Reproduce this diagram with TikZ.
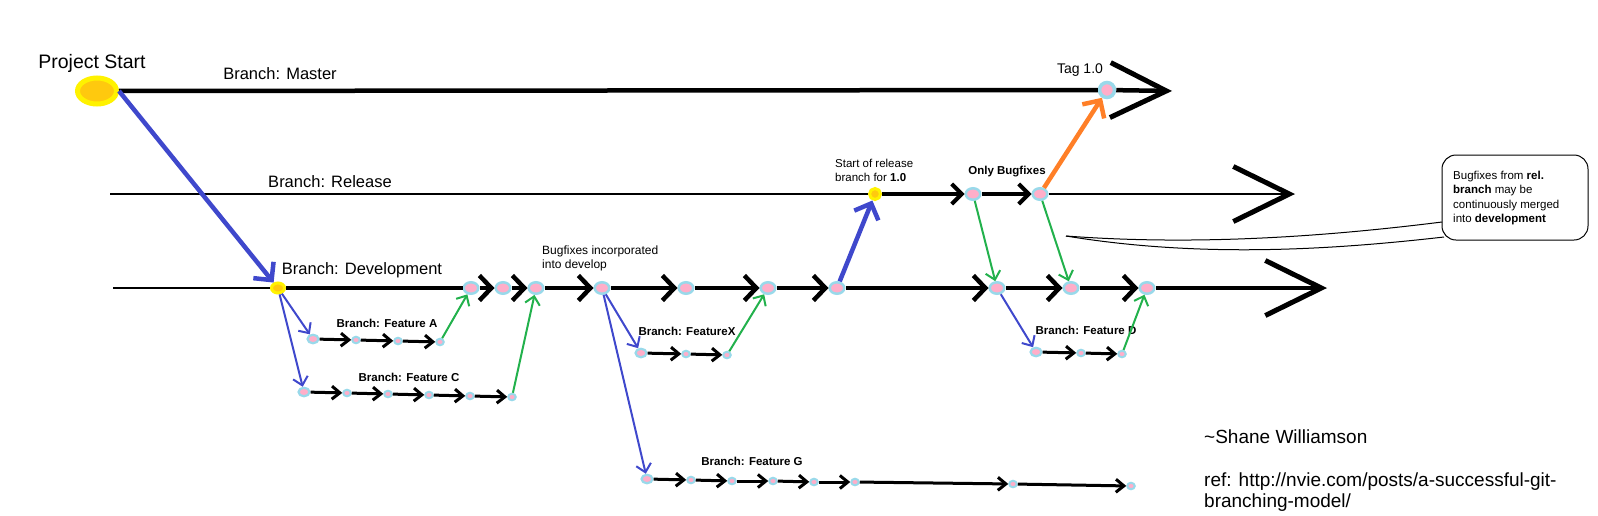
\documentclass[tikz,border=0pt]{standalone}
\usepackage{fontspec}
\setmainfont{Liberation Sans}
\usetikzlibrary{arrows.meta,shapes.geometric}

\definecolor{ringblue}{HTML}{99D9EA}
\definecolor{dotpink}{HTML}{FFAEC9}
\definecolor{startyellow}{HTML}{FFF200}
\definecolor{startorange}{HTML}{FFC90E}
\definecolor{forkblue}{HTML}{3F48CC}
\definecolor{mergegreen}{HTML}{22B14C}
\definecolor{tagorange}{HTML}{FF7F27}

\tikzset{
	commit/.style={ellipse, draw=ringblue, fill=dotpink, line width=2.5pt, minimum width=14.5pt, minimum height=11.5pt, inner sep=0pt},
	firstcommit/.style={commit, line width=2.2pt, minimum width=11pt, minimum height=8.5pt},
	smallcommit/.style={commit, line width=2pt, minimum width=7.5pt, minimum height=6.5pt},
	tagcommit/.style={commit, line width=3.5pt, minimum width=15pt, minimum height=15pt},
	startdot/.style={ellipse, draw=startyellow, fill=startorange, inner sep=0pt},
	label/.style={inner sep=0pt},
	branchname/.style={label, font=\fontsize{16.5}{19}\selectfont},
	featurename/.style={label, font=\fontsize{11.5}{14}\selectfont\bfseries},
	note/.style={label, align=left, font=\fontsize{11.5}{14}\selectfont},
	trunkstep/.style={line width=4.5pt, -{Straight Barb[length=12pt,width=25pt]}},
	relstep/.style={line width=4pt, -{Straight Barb[length=10pt,width=20pt]}},
	featstep/.style={line width=3pt, -{Straight Barb[length=8pt,width=13pt]}},
	bigtip/.style={-{Straight Barb[length=56pt,width=55pt,line width'=5pt]}},
	forkarrow/.style={draw=forkblue, line width=2pt, -{Straight Barb[length=8pt,width=15pt]}},
	bigforkarrow/.style={draw=forkblue, line width=4.5pt, -{Straight Barb[length=13pt,width=26pt]}},
	mergearrow/.style={draw=mergegreen, line width=2pt, -{Straight Barb[length=8pt,width=15pt]}},
	tagarrow/.style={draw=tagorange, line width=4.5pt, -{Straight Barb[length=13pt,width=26pt]}}
}

\begin{document}
\begin{tikzpicture}[x=1pt,y=-1pt]
		\useasboundingbox (0,0) rectangle (1598,515);

		%master
		\node[startdot, line width=5pt, minimum width=39pt, minimum height=26pt] (S) at (97,91) {};
		\node[tagcommit] (T) at (1107,90) {};
		\coordinate (mtip) at (1172,91);
		\node[label, font=\fontsize{19.5}{22}\selectfont] (pstart) at (92,63) {Project Start};
		\node[branchname] (lmaster) at (280,74) {Branch: Master};
		\node[label, font=\fontsize{14}{16}\selectfont] (ltag) at (1080,70) {Tag 1.0};

		%release
		\coordinate (rstart) at (110,194);
		\node[startdot, line width=3pt, minimum width=11pt, minimum height=11pt] (R0) at (875,194) {};
		\node[commit] (R1) at (973,194) {};
		\node[commit] (R2) at (1040,194) {};
		\coordinate (rtip) at (1295,194);
		\node[branchname] (lrelease) at (330,182) {Branch: Release};
		\node[note, anchor=west] (lrstart) at (835,170) {Start of release\\branch for \textbf{1.0}};
		\node[note, anchor=center, font=\fontsize{11.5}{14}\selectfont\bfseries] (lonly) at (1007,172) {Only Bugfixes};

		%development
		\coordinate (dstart) at (113,288);
		\node[startdot, line width=3pt, minimum width=13pt, minimum height=10pt] (D0) at (278,288) {};
		\node[commit] (D1) at (471,288) {};
		\node[commit] (D2) at (503,288) {};
		\node[commit] (D3) at (536,288) {};
		\node[commit] (D4) at (602,288) {};
		\node[commit] (D5) at (686,288) {};
		\node[commit] (D6) at (768,288) {};
		\node[commit] (D7) at (837,288) {};
		\node[commit] (D8) at (997,288) {};
		\node[commit] (D9) at (1071,288) {};
		\node[commit] (D10) at (1147,288) {};
		\coordinate (dtip) at (1327,288);
		\node[branchname] (ldev) at (362,270) {Branch: Development};
		\node[note, anchor=west, font=\fontsize{12}{14}\selectfont] (lbugfix) at (542,258) {Bugfixes incorporated\\into develop};

		%feature A
		\node[firstcommit] (A1) at (313,339) {};
		\node[smallcommit] (A2) at (356,340) {};
		\node[smallcommit] (A3) at (398,341) {};
		\node[smallcommit] (A4) at (440,342) {};
		\node[featurename] (lA) at (387,323) {Branch: Feature A};

		%feature C
		\node[firstcommit] (C1) at (304,392) {};
		\node[smallcommit] (C2) at (347,393) {};
		\node[smallcommit] (C3) at (388,394) {};
		\node[smallcommit] (C4) at (429,395) {};
		\node[smallcommit] (C5) at (470,396) {};
		\node[smallcommit] (C6) at (512,397) {};
		\node[featurename] (lC) at (409,377) {Branch: Feature C};

		%feature X
		\node[firstcommit] (X1) at (641,353) {};
		\node[smallcommit] (X2) at (686,354) {};
		\node[smallcommit] (X3) at (727,355) {};
		\node[featurename] (lX) at (687,331) {Branch: FeatureX};

		%feature G
		\node[firstcommit] (G1) at (647,479) {};
		\node[smallcommit] (G2) at (691,480) {};
		\node[smallcommit] (G3) at (732,481) {};
		\node[smallcommit] (G4) at (773,481) {};
		\node[smallcommit] (G5) at (814,482) {};
		\node[smallcommit] (G6) at (855,482) {};
		\node[smallcommit] (G7) at (1013,484) {};
		\node[smallcommit] (G8) at (1131,486) {};
		\node[featurename] (lG) at (752,461) {Branch: Feature G};

		%feature D
		\node[firstcommit] (F1) at (1036,352) {};
		\node[smallcommit] (F2) at (1081,353) {};
		\node[smallcommit] (F3) at (1122,354) {};
		\node[featurename] (lD) at (1086,330) {Branch: Feature D};

		%branch lines
		\draw[line width=4.5pt] (S) -- (T);
		\draw[line width=4.5pt, bigtip] (T) -- (mtip);
		\draw[line width=1.2pt] (rstart) -- (R0);
		\draw[relstep] (R0) -- (R1);
		\draw[relstep] (R1) -- (R2);
		\draw[line width=1.2pt, bigtip] (R2) -- (rtip);
		\draw[line width=1.2pt] (dstart) -- (D0);
		\draw[line width=4.5pt] (D0) -- (D1);
		\foreach \a/\b in {D1/D2,D2/D3,D3/D4,D4/D5,D5/D6,D6/D7,D7/D8,D8/D9,D9/D10}
			\draw[trunkstep] (\a) -- (\b);
		\draw[line width=4.5pt, bigtip] (D10) -- (dtip);
		\foreach \a/\b in {A1/A2,A2/A3,A3/A4,C1/C2,C2/C3,C3/C4,C4/C5,C5/C6,X1/X2,X2/X3,G1/G2,G2/G3,G3/G4,G4/G5,G5/G6,G6/G7,G7/G8,F1/F2,F2/F3}
			\draw[featstep] (\a) -- (\b);

		%forks
		\draw[bigforkarrow] (S.east) -- (D0);
		\draw[forkarrow] (D0) -- (A1);
		\draw[forkarrow] (D0) -- (C1);
		\draw[forkarrow] (D4) -- (X1);
		\draw[forkarrow] (D4) -- (G1);
		\draw[bigforkarrow] (D7) -- (R0);
		\draw[forkarrow] (D8) -- (F1);

		%merges
		\draw[mergearrow] (A4) -- (D1);
		\draw[mergearrow] (C6) -- (D3);
		\draw[mergearrow] (X3) -- (D6);
		\draw[mergearrow] (R1) -- (D8);
		\draw[mergearrow] (R2) -- (D9);
		\draw[mergearrow] (F3) -- (D10);
		\draw[tagarrow] (R2) -- (T);

		%callout
		\draw[line width=1pt, rounded corners=14pt] (1442,155) rectangle (1588,240);
		\coordinate (ctip) at (1066,236);
		\draw[line width=1pt] (ctip) .. controls (1200,246) and (1330,236) .. (1442,222);
		\draw[line width=1pt] (ctip) .. controls (1200,258) and (1330,250) .. (1444,237);
		\node[note, anchor=west, font=\fontsize{11.5}{14.5}\selectfont] (lcallout) at (1453,198) {Bugfixes from \textbf{rel.}\\\textbf{branch} may be\\continuously merged\\into \textbf{development}};

		%credits
		\node[label, anchor=west, font=\fontsize{19}{21}\selectfont] (author) at (1204,437) {\textasciitilde Shane Williamson};
		\node[label, anchor=west, align=left, font=\fontsize{19}{21}\selectfont] (ref) at (1204,492) {ref: http://nvie.com/posts/a-successful-git-\\branching-model/};
\end{tikzpicture}
\end{document}
